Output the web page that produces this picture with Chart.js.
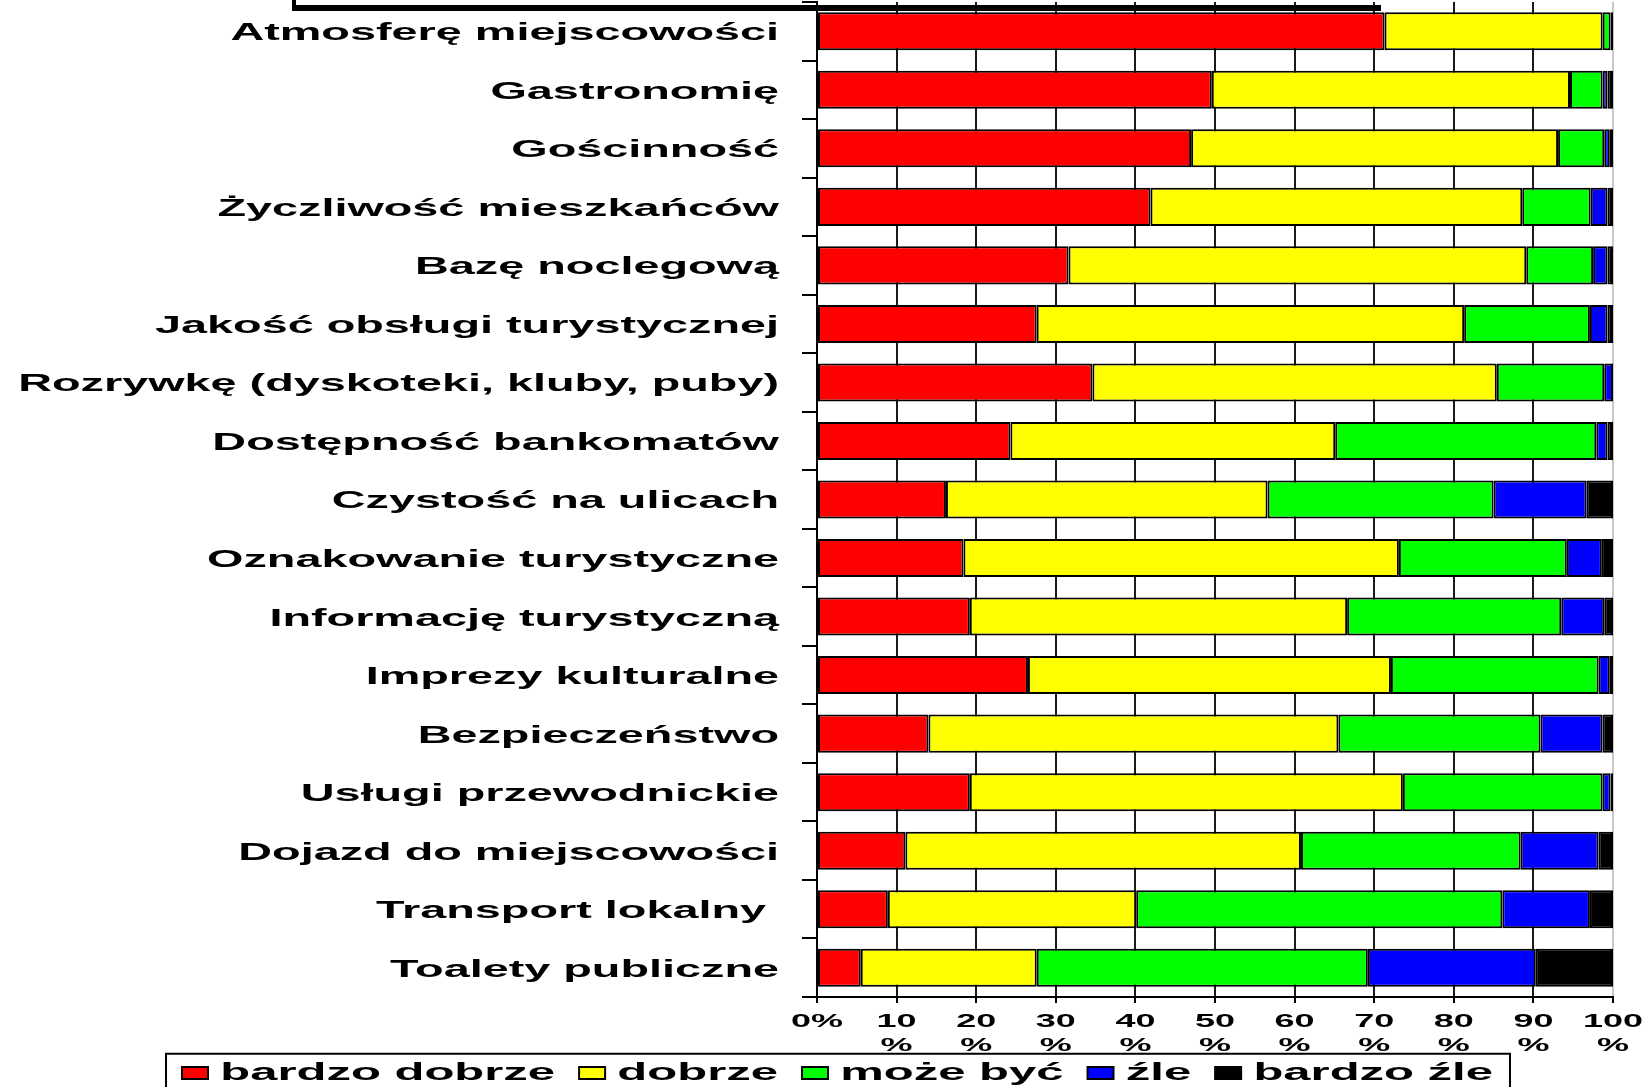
<!DOCTYPE html>
<html lang="pl">
<head>
    <meta charset="UTF-8">
    <title>Ocena miejscowości</title>
    <script src="https://cdn.jsdelivr.net/npm/chart.js"></script>
    <style>
        html, body {
            margin: 0;
            padding: 0;
            background: #ffffff;
        }
        #wrap {
            position: relative;
            width: 1650px;
            height: 1087px;
        }
    </style>
</head>
<body>
    <div id="wrap"><canvas id="chart"></canvas></div>

    <script>
        const categories = [
            'Atmosferę miejscowości',
            'Gastronomię',
            'Gościnność',
            'Życzliwość mieszkańców',
            'Bazę noclegową',
            'Jakość obsługi turystycznej',
            'Rozrywkę (dyskoteki, kluby, puby)',
            'Dostępność bankomatów',
            'Czystość na ulicach',
            'Oznakowanie turystyczne',
            'Informację turystyczną',
            'Imprezy kulturalne',
            'Bezpieczeństwo',
            'Usługi przewodnickie',
            'Dojazd do miejscowości',
            'Transport lokalny ',
            'Toalety publiczne'
        ];

        const seriesNames = ['bardzo dobrze', 'dobrze', 'może być', 'źle', 'bardzo źle'];

        const bardzoDobrze = [71.3, 49.6, 47.0, 41.9, 31.6, 27.6, 34.6, 24.3, 16.2, 18.4, 19.2, 26.5, 14.0, 19.2, 11.1, 8.9, 5.5];
        const dobrze       = [27.4, 45.0, 46.1, 46.7, 57.5, 53.7, 50.8, 40.8, 40.4, 54.7, 47.4, 45.6, 51.5, 54.4, 49.7, 31.2, 22.1];
        const mozeByc      = [1.0, 4.1, 5.8, 8.6, 8.4, 15.8, 13.5, 32.8, 28.4, 21.1, 26.9, 26.1, 25.4, 25.1, 27.6, 46.0, 41.6];
        const zle          = [0, 0.6, 0.7, 2.1, 1.8, 2.2, 1.1, 1.4, 11.7, 4.4, 5.4, 1.4, 7.8, 1.0, 9.8, 11.0, 21.1];
        const bardzoZle    = [0.3, 0.7, 0.4, 0.7, 0.7, 0.7, 0, 0.7, 3.3, 1.4, 1.1, 0.4, 1.3, 0.3, 1.8, 2.9, 9.7];

        const xTickLabels = ['0%', '10 %', '20 %', '30 %', '40 %', '50 %', '60 %', '70 %', '80 %', '90 %', '100 %'];

        const colors = ['#ff0000', '#ffff00', '#00ff00', '#0000ff', '#000000'];

        // the original picture is stretched sideways, so the text is drawn twice as wide
        const STRETCH = 2;
        const ctx = document.getElementById('chart').getContext('2d');
        const plainFill = ctx.fillText.bind(ctx);
        const plainMeasure = ctx.measureText.bind(ctx);
        ctx.fillText = function (text, x, y) {
            ctx.save();
            ctx.translate(x, y);
            ctx.scale(STRETCH, 1);
            plainFill(text, 0, 0);
            ctx.restore();
        };
        ctx.measureText = function (text) {
            const m = plainMeasure(text);
            return {
                width: m.width * STRETCH,
                actualBoundingBoxLeft: m.actualBoundingBoxLeft * STRETCH,
                actualBoundingBoxRight: m.actualBoundingBoxRight * STRETCH,
                actualBoundingBoxAscent: m.actualBoundingBoxAscent,
                actualBoundingBoxDescent: m.actualBoundingBoxDescent
            };
        };

        // legend sits a bit right of centre and overlaps the axis label block
        const LEGEND_SHIFT_X = 31;
        const LEGEND_SHIFT_Y = -17.25;

        const framePlugin = {
            id: 'frames',
            afterLayout(chart) {
                const lg = chart.legend;
                lg.left += LEGEND_SHIFT_X;
                lg.right += LEGEND_SHIFT_X;
                lg.top += LEGEND_SHIFT_Y;
                lg.bottom += LEGEND_SHIFT_Y;
            },
            afterDraw(chart) {
                const c = chart.ctx;
                c.save();
                // what is left of the cut-off heading box
                c.fillStyle = '#000';
                c.fillRect(292, 0, 4, 11);
                c.fillRect(292, 5, 1089, 6);
                const boxes = chart.legend.legendHitBoxes;
                if (boxes && boxes.length) {
                    const first = boxes[0];
                    const last = boxes[boxes.length - 1];
                    const left = first.left - 16;
                    const right = last.left + last.width + 17;
                    c.strokeStyle = '#000';
                    c.lineWidth = 2;
                    c.strokeRect(left, first.top - 7, right - left, 100);
                }
                c.restore();
            }
        };

        const allSeries = [bardzoDobrze, dobrze, mozeByc, zle, bardzoZle];

        Chart.defaults.font.family = '"Liberation Sans", Arial, sans-serif';
        Chart.defaults.font.weight = 'bold';
        Chart.defaults.color = '#000';

        new Chart(ctx, {
            type: 'bar',
            data: {
                labels: categories,
                datasets: allSeries.map((values, i) => ({
                    label: seriesNames[i],
                    data: values,
                    backgroundColor: colors[i],
                    borderColor: '#000',
                    borderWidth: 2,
                    borderSkipped: false,
                    categoryPercentage: 1,
                    barPercentage: 0.65
                }))
            },
            options: {
                indexAxis: 'y',
                responsive: true,
                maintainAspectRatio: false,
                animation: false,
                layout: {
                    padding: { top: 2, left: 0, right: 37, bottom: -25.5 }
                },
                plugins: {
                    title: { display: false },
                    tooltip: { enabled: false },
                    legend: {
                        position: 'bottom',
                        labels: {
                            boxWidth: 26,
                            boxHeight: 12,
                            padding: 24,
                            color: '#000',
                            font: { size: 24.5, weight: 'bold' }
                        }
                    }
                },
                scales: {
                    x: {
                        stacked: true,
                        min: 0,
                        max: 100,
                        ticks: {
                            stepSize: 10,
                            padding: 6.5,
                            color: '#000',
                            font: { size: 18, weight: 'bold', lineHeight: 1.35 },
                            callback: (value, index) => {
                                const label = xTickLabels[index] || '';
                                return label.includes(' ') ? label.split(' ') : label;
                            }
                        },
                        grid: {
                            color: c => (c.tick && c.tick.value === 100 ? '#c8c8c8' : '#1a1a1a'),
                            lineWidth: 2,
                            tickLength: 6,
                            tickColor: '#000'
                        },
                        border: { display: true, color: '#000', width: 2 },
                        afterFit: scale => {
                            scale.height = 57;
                            scale.paddingLeft = 0;
                            scale.paddingRight = 0;
                        }
                    },
                    y: {
                        stacked: true,
                        ticks: {
                            padding: 23,
                            labelOffset: 2.5,
                            color: '#000',
                            font: { size: 23.4, weight: 'bold' }
                        },
                        grid: {
                            offset: true,
                            drawOnChartArea: false,
                            tickLength: 15,
                            color: '#000',
                            lineWidth: 2
                        },
                        border: { display: true, color: '#000', width: 2 },
                        afterFit: scale => {
                            scale.width = 817;
                            scale.paddingTop = 0;
                            scale.paddingBottom = 0;
                        }
                    }
                }
            },
            plugins: [framePlugin]
        });
    </script>
</body>
</html>
